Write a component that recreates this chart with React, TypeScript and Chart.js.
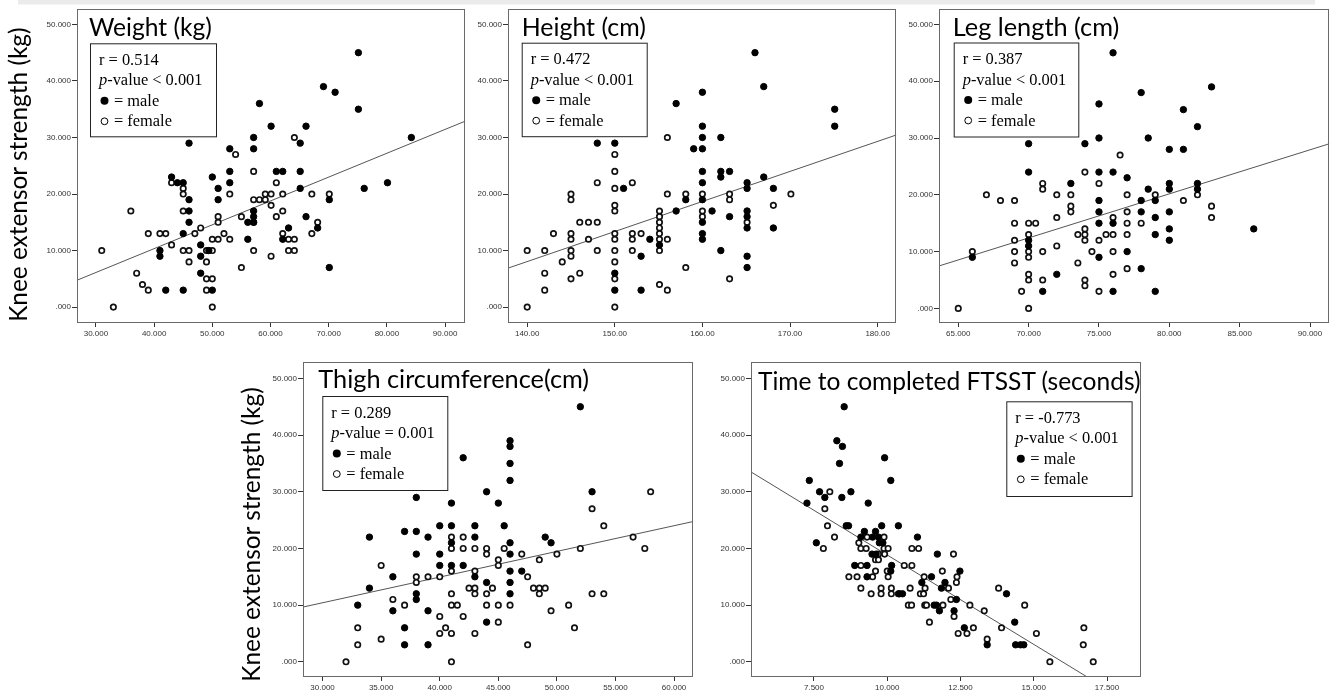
import React, { useEffect, useRef } from 'react';
import { Chart, registerables } from 'chart.js';

Chart.register(...registerables);

type Pt = [number, number];

// ---------- data (x value, knee extensor strength kg) ----------
const weightMale: Pt[] = [[75.1,45],[69.1,39],[71.1,38],[75.1,35],[58.1,36],[60.1,32],[66.1,32],[84.2,30],[46,29],[57.1,30],[65.1,29],[53,28],[57.1,28],[53,24],[61,24],[62.1,24],[65.1,24],[43,23],[50,23],[44,22],[45,22],[53,22],[80.1,22],[51,21],[65.1,21],[76.1,21],[46,19],[51,19],[70.1,19],[46,17],[57.1,17],[57.1,16],[66.1,16],[46,15],[56.1,15],[57.1,15],[63.1,14],[68.1,14],[45,13],[56.1,12],[62.1,12],[48,11],[41,10],[49.4,10],[41,9],[48,9],[70.1,7],[48,6],[42,3],[45,3],[50,3]];
const weightFemale: Pt[] = [[31,10],[33,0],[36,17],[37,6],[38,4],[39,3],[39,13],[41,13],[42,13],[43,11],[43,22],[45,21],[45,20],[45,17],[45,10],[46,10],[46,8],[47,13],[48,14],[49,8],[49,5],[50,5],[49,3],[50,0],[50,10],[49,10],[50,12],[51,12],[51,16],[51,15],[52,13],[53,12],[53,20],[54,27],[55,16],[55,7],[57.1,24],[57.1,19],[58.1,19],[59.1,19],[59.1,20],[60.1,20],[60.1,18],[57.1,15],[57.1,10],[60.1,9],[61,22],[62.1,20],[61,16],[62.1,17],[62.1,13],[63.1,12],[64.1,12],[63.1,10],[64.1,10],[64.1,30],[67.1,20],[67.1,13],[68.1,15],[70.1,20]];

const heightMale: Pt[] = [[166,45],[167,39],[160,38],[157,36],[175.1,35],[175.1,32],[160,32],[160,30],[162.1,30],[148,29],[150,29],[159,28],[160,28],[160,24],[162.1,24],[163.1,24],[162.1,23],[167,23],[160,22],[165.1,22],[151,21],[165.1,21],[168.1,21],[158.1,19],[160,19],[157,17],[161.1,17],[165.1,17],[165.1,16],[163.1,16],[160,15],[165.1,14],[168.1,14],[160,13],[160,12],[154,12],[155.1,11],[162.1,10],[153,9],[165.1,9],[165.1,7],[150,6],[150,3],[153,3]];
const heightFemale: Pt[] = [[140,10],[140,0],[142,10],[142,6],[142,3],[143,13],[144,8],[145,20],[145,19],[145,13],[145,12],[145,10],[145,9],[145,5],[146,15],[147,15],[148,15],[147,12],[146,6],[148,22],[148,10],[150,27],[150,24],[150,21],[150,18],[150,17],[150,13],[150,12],[150,10],[150,8],[150,5],[150,0],[152,22],[152,13],[152,12],[152,10],[153,13],[155.1,17],[155.1,16],[155.1,15],[155.1,14],[155.1,13],[155.1,12],[155.1,10],[155.1,4],[156,30],[156,20],[156,12],[156,3],[158.1,20],[158.1,7],[160,20],[160,17],[160,16],[163.1,20],[163.1,19],[163.1,5],[165.1,15],[168.1,18],[170.1,20]];

const legMale: Pt[] = [[76,45],[83,39],[78,38],[75,36],[81,35],[73,32],[82,32],[75,30],[78.5,30],[70,29],[74,29],[80,28],[81,28],[70,24],[75,24],[76,24],[77,23],[73,22],[80,22],[82,22],[78.5,21],[80,21],[82,21],[75,19],[78,19],[79,19],[75,17],[78,17],[80,17],[79,16],[75,15],[76,15],[80,14],[86,14],[79,13],[70,12],[80,12],[70,11],[77,10],[66,9],[75,9],[72,6],[78,7],[71,3],[76,3],[79,3]];
const legFemale: Pt[] = [[65,0],[66,10],[67,20],[68,19],[69,19],[69,15],[69,12],[69,10],[69,8],[69.5,3],[70,15],[70.5,15],[70,13],[70,10],[70,9],[70,6],[70,5],[70,0],[71,22],[71,21],[71,10],[71,5],[72,20],[72,16],[72,11],[73,20],[73,18],[73,17],[73.5,8],[73.5,13],[74,24],[74,14],[74,13],[74,12],[74,5],[74,4],[74.5,10],[75,22],[75,12],[75,3],[75.5,13],[76,16],[76,13],[76,10],[76,6],[76.5,27],[77,20],[77,17],[77,15],[77,13],[77,7],[78,15],[79,20],[81,19],[82,20],[83,18],[83,16]];

const thighMale: Pt[] = [[52,45],[46,39],[46,38],[42,36],[46,35],[40,32],[46,32],[44,30],[53,30],[38,29],[41,28],[45,28],[37,23],[38,23],[34,22],[39,22],[40,24],[41,24],[43,24],[45.5,24],[43,22],[49,22],[41,21],[46,21],[49.5,21],[38,19],[40,19],[46,19],[40,17],[41,17],[42,17],[36,15],[43,15],[46,16],[47,16],[34,13],[44,14],[46,14],[38,12],[46,12],[38,11],[33,10],[36,9],[39,9],[37,6],[44,7],[37,3],[39,3]];
const thighFemale: Pt[] = [[32,0],[33,6],[33,3],[35,4],[35,17],[36,11],[37,10],[38,15],[38,14],[39,15],[40,15],[40,8],[40,5],[40.5,6],[41,5],[41,0],[41,22],[41,20],[41,16],[41,12],[41,10],[41.5,10],[42,22],[42,20],[42,8],[42.5,13],[43,20],[43,16],[43,13],[43,12],[43,5],[44,20],[44,19],[44,12],[44,10],[44.5,13],[45,18],[45,17],[45,10],[45,7],[45.5,20],[46,10],[47,19],[47.5,15],[47.5,3],[48,13],[48.5,18],[48.5,13],[48.5,12],[49,13],[49.5,9],[50,19],[51,10],[51.5,6],[52,20],[53,27],[53,12],[54,24],[54,12],[56.5,22],[57.5,20],[58,30]];

const ftsstMale: Pt[] = [[8.53,45],[8.28,39],[8.47,38],[8.37,35],[9.91,36],[7.34,32],[10.12,32],[7.69,30],[8.76,30],[7.87,29],[8.45,29],[7.26,28],[9.35,28],[8.6,24],[8.68,24],[9.81,24],[10.38,24],[9.22,23],[9.6,23],[9.1,22],[9.5,22],[9.7,22],[11.03,22],[7.58,21],[9.73,21],[9.85,21],[9.48,19],[9.62,19],[11.71,19],[8.89,17],[9.31,17],[10.15,17],[10.12,16],[12.48,16],[9.31,15],[11.51,15],[11.18,14],[11.97,14],[11.85,13],[14.07,12],[10.41,12],[10.52,12],[12.36,11],[11.6,10],[11.68,10],[11.78,9],[12.28,9],[14.35,7],[12.63,6],[13.41,3],[14.38,3],[14.55,3],[14.66,3]];
const ftsstFemale: Pt[] = [[8.04,30],[7.87,27],[7.96,24],[8.2,22],[7.82,20],[8.69,15],[8.97,15],[9.03,21],[9.1,20],[9.28,20],[9.1,17],[9.1,13],[9.31,22],[9.45,12],[9.5,15],[9.6,16],[9.6,18],[9.7,18],[9.7,19],[9.79,13],[9.79,12],[9.89,20],[9.89,22],[9.91,19],[10.03,20],[10.03,15],[10.0,16],[10.14,13],[10.14,12],[10.38,12],[10.58,17],[10.78,13],[10.72,10],[10.83,10],[10.84,17],[10.84,20],[11.07,20],[11.13,12],[11.24,12],[11.26,15],[11.29,13],[11.28,10],[11.34,10],[11.44,7],[11.88,16],[11.9,10],[12.09,13],[12.17,11],[12.26,19],[12.28,8],[12.36,14],[12.38,15],[12.42,5],[12.72,5],[12.82,10],[12.94,6],[13.31,9],[13.41,4],[13.8,13],[13.9,6],[14.69,10],[15.09,5],[15.55,0],[16.71,6],[16.69,3],[17.03,0]];

// ---------- tick labels ----------
const strengthTicks = [0, 10, 20, 30, 40, 50];
const weightTicks = [30, 40, 50, 60, 70, 80, 90];
const heightTicks = [140, 150, 160, 170, 180];
const legTicks = [65, 70, 75, 80, 85, 90];
const thighTicks = [30, 35, 40, 45, 50, 55, 60];
const ftsstTicks = [7.5, 10, 12.5, 15, 17.5];

// ---------- fitted regression lines ----------
const fitIntercepts = [-6.53, -66.34, -41.88, -3.18, 50.37];
const fitSlopes = [0.4218, 0.5314, 0.7756, 0.4532, -3.153];

// ---------- panel texts ----------
const panelTitles = ['Weight (kg)', 'Height (cm)', 'Leg length (cm)', 'Thigh circumference(cm)', 'Time to completed FTSST (seconds)'];
const rValues = ['0.514', '0.472', '0.387', '0.289', '-0.773'];
const pTexts = ['< 0.001', '< 0.001', '< 0.001', '= 0.001', '< 0.001'];
const yAxisLabel = 'Knee extensor strength (kg)';

// ---------- layout ----------
const AXW = 50;
const AXH = 16;
const PAD = 4;

type PanelCfg = {
  male: Pt[]; female: Pt[]; xTicks: number[]; xDec: number;
  frame: [number, number, number, number];
  xr: [number, number]; yr: [number, number];
  title: { x: number; base: number; w: number };
  box: [number, number, number, number];
};

const panels: PanelCfg[] = [
  { male: weightMale, female: weightFemale, xTicks: weightTicks, xDec: 3, frame: [77, 7, 467, 323], xr: [26.75, 93.47], yr: [-2.81, 52.76], title: { x: 89, base: 35.5, w: 123 }, box: [90, 43.3, 126, 93] },
  { male: heightMale, female: heightFemale, xTicks: heightTicks, xDec: 2, frame: [508, 7, 898, 323], xr: [137.81, 182.13], yr: [-2.81, 52.76], title: { x: 521.7, base: 35.5, w: 124.3 }, box: [521.7, 42.7, 125, 93.5] },
  { male: legMale, female: legFemale, xTicks: legTicks, xDec: 3, frame: [939, 7, 1331, 323], xr: [63.63, 91.37], yr: [-2.57, 52.75], title: { x: 952.7, base: 35.5, w: 166.7 }, box: [953.7, 42.5, 124.6, 94] },
  { male: thighMale, female: thighFemale, xTicks: thighTicks, xDec: 3, frame: [303, 360, 695, 677], xr: [28.33, 61.64], yr: [-2.68, 52.93], title: { x: 318.3, base: 388, w: 271 }, box: [322.3, 396, 125, 94] },
  { male: ftsstMale, female: ftsstFemale, xTicks: ftsstTicks, xDec: 3, frame: [751, 360, 1143, 677], xr: [5.35, 18.67], yr: [-2.68, 52.93], title: { x: 758, base: 390, w: 383.7 }, box: [1006.3, 401.3, 125.3, 94.7] },
];

const framePlugin = {
  id: 'frameBox',
  afterDraw(chart: any) {
    const { ctx, chartArea: a } = chart;
    ctx.save();
    ctx.strokeStyle = '#6a6a6a';
    ctx.lineWidth = 1;
    ctx.strokeRect(Math.round(a.left) + 0.5, Math.round(a.top) + 0.5, Math.round(a.right - a.left) - 1, Math.round(a.bottom - a.top) - 1);
    ctx.restore();
  },
};

const tickFont = { family: "'Liberation Sans', Arial, sans-serif", size: 8 };

function Panel({ cfg, idx }: { cfg: PanelCfg; idx: number }) {
  const ref = useRef<HTMLCanvasElement>(null);
  const [L, T, R, B] = cfg.frame;
  const cw = R - L + AXW + PAD;
  const ch = B - T + PAD + AXH;
  useEffect(() => {
    const a = fitIntercepts[idx];
    const b = fitSlopes[idx];
    const chart = new Chart(ref.current!, {
      type: 'scatter',
      data: {
        datasets: [
          {
            label: 'male',
            data: cfg.male.map(([x, y]) => ({ x, y })),
            pointRadius: 3.2,
            pointBorderWidth: 1,
            pointBackgroundColor: '#000',
            pointBorderColor: '#000',
          },
          {
            label: 'female',
            data: cfg.female.map(([x, y]) => ({ x, y })),
            pointRadius: 2.7,
            pointBorderWidth: 1.7,
            pointBackgroundColor: '#fff',
            pointBorderColor: '#111',
          },
          {
            label: 'fit',
            data: [
              { x: cfg.xr[0], y: a + b * cfg.xr[0] },
              { x: cfg.xr[1], y: a + b * cfg.xr[1] },
            ],
            showLine: true,
            borderColor: '#555',
            borderWidth: 1,
            pointRadius: 0,
          } as any,
        ],
      },
      options: {
        animation: false,
        responsive: false,
        devicePixelRatio: 1,
        events: [],
        layout: { padding: { top: PAD, right: PAD, left: 0, bottom: 0 } },
        plugins: { legend: { display: false }, tooltip: { enabled: false } },
        scales: {
          x: {
            type: 'linear',
            min: cfg.xr[0],
            max: cfg.xr[1],
            afterBuildTicks: (s: any) => { s.ticks = cfg.xTicks.map((v) => ({ value: v })); },
            afterFit: (s: any) => { s.height = AXH; },
            ticks: {
              autoSkip: false, maxRotation: 0, minRotation: 0, padding: 2,
              font: tickFont, color: '#333',
              callback: (v: any) => Number(v).toFixed(cfg.xDec),
            },
            grid: { drawOnChartArea: false, drawTicks: true, tickLength: 4, color: '#333' },
            border: { display: false },
          },
          y: {
            type: 'linear',
            min: cfg.yr[0],
            max: cfg.yr[1],
            afterBuildTicks: (s: any) => { s.ticks = strengthTicks.map((v) => ({ value: v })); },
            afterFit: (s: any) => { s.width = AXW; },
            ticks: {
              autoSkip: false, padding: 1, font: tickFont, color: '#333',
              callback: (v: any) => (Number(v) === 0 ? '.000' : Number(v).toFixed(3)),
            },
            grid: { drawOnChartArea: false, drawTicks: true, tickLength: 5, color: '#333' },
            border: { display: false },
          },
        },
      } as any,
      plugins: [framePlugin],
    });
    return () => chart.destroy();
  }, []);
  return (
    <canvas
      ref={ref}
      width={cw}
      height={ch}
      style={{ position: 'absolute', left: L - AXW, top: T - PAD, width: cw, height: ch }}
    />
  );
}

function fitFont(text: string, target: number, family: string) {
  const c = document.createElement('canvas').getContext('2d')!;
  c.font = `100px ${family}`;
  const w = c.measureText(text).width || 100;
  return (100 * target) / w;
}

const TITLE_FONT = 'Lato';
const SERIF = "'Liberation Serif', 'Times New Roman', serif";

export default function App() {
  const ySize = fitFont(yAxisLabel, 295, TITLE_FONT);
  return (
    <div style={{ position: 'absolute', left: 0, top: 0, width: 1341, height: 691, overflow: 'hidden', background: '#fff' }}>
      {panels.map((p, i) => (
        <Panel key={i} cfg={p} idx={i} />
      ))}
      <svg width={1341} height={691} style={{ position: 'absolute', left: 0, top: 0, pointerEvents: 'none' }}>
        <rect x={18} y={0} width={1297} height={4.5} fill="#ebebeb" />
        <text transform="translate(27.3,174.7) rotate(-90)" textAnchor="middle" fontFamily={TITLE_FONT} fontSize={ySize} fill="#000">{yAxisLabel}</text>
        <text transform="translate(259.8,534.5) rotate(-90)" textAnchor="middle" fontFamily={TITLE_FONT} fontSize={ySize} fill="#000">{yAxisLabel}</text>
        {panels.map((p, i) => {
          const [bx, by, bw, bh] = p.box;
          const tx = bx + 9;
          const fs = 16.4;
          return (
            <g key={i}>
              <text x={p.title.x} y={p.title.base} fontFamily={TITLE_FONT} fontSize={fitFont(panelTitles[i], p.title.w, TITLE_FONT)} fill="#000">{panelTitles[i]}</text>
              <rect x={bx + 0.5} y={by + 0.5} width={bw} height={bh} fill="#fff" stroke="#222" strokeWidth={1} />
              <text x={tx} y={by + 21.5} fontFamily={SERIF} fontSize={fs} fill="#000">{'r = ' + rValues[i]}</text>
              <text x={tx} y={by + 42} fontFamily={SERIF} fontSize={fs} fill="#000"><tspan fontStyle="italic">p</tspan>{'-value ' + pTexts[i]}</text>
              <circle cx={tx + 5.5} cy={by + 57.5} r={4} fill="#000" />
              <text x={tx + 15} y={by + 62.5} fontFamily={SERIF} fontSize={fs} fill="#000">= male</text>
              <circle cx={tx + 5.5} cy={by + 78} r={3.4} fill="#fff" stroke="#000" strokeWidth={1} />
              <text x={tx + 15} y={by + 83} fontFamily={SERIF} fontSize={fs} fill="#000">= female</text>
            </g>
          );
        })}
      </svg>
    </div>
  );
}
